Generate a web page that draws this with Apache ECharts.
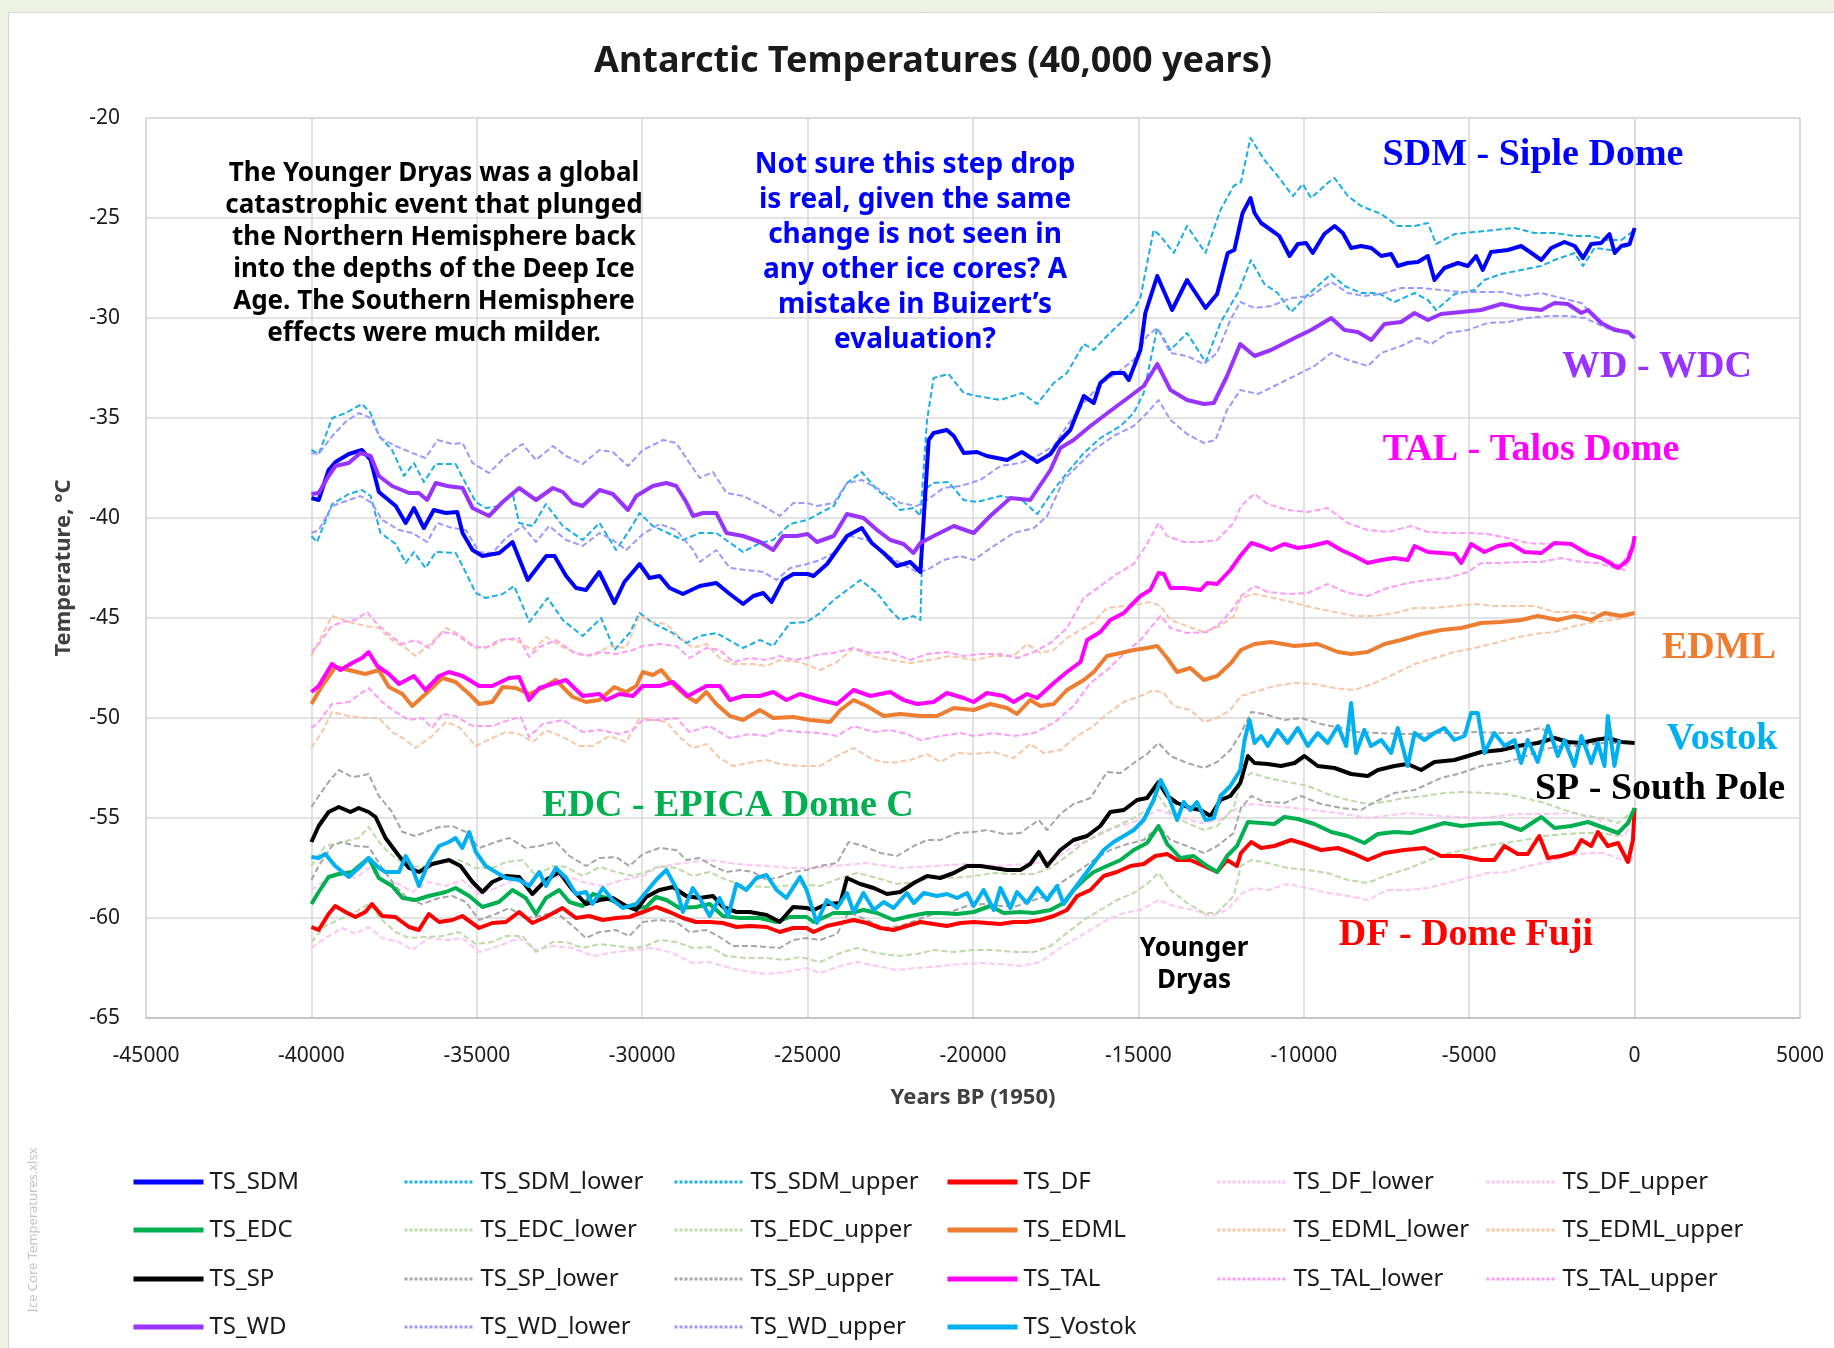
<!DOCTYPE html>
<html>
<head>
<meta charset="utf-8">
<title>Antarctic Temperatures (40,000 years)</title>
<script src="https://cdn.jsdelivr.net/npm/echarts/dist/echarts.min.js"></script>
<style>
  html, body { margin: 0; padding: 0; background: #ffffff; }
  #chart { width: 1834px; height: 1348px; }
</style>
</head>
<body>
<div id="chart"></div>
<script>
// Ice-core temperature reconstructions: [years BP (1950), temperature °C]
const TS_SDM = [[-40000,-39.0],[-39780,-39.1],[-39480,-37.6],[-39270,-37.2],[-38870,-36.8],[-38470,-36.6],[-38210,-37.1],[-37960,-38.7],[-37450,-39.4],[-37150,-40.25],[-36900,-39.5],[-36600,-40.5],[-36300,-39.6],[-35940,-39.75],[-35590,-39.7],[-35430,-40.75],[-35130,-41.6],[-34830,-41.9],[-34320,-41.75],[-33920,-41.2],[-33460,-43.1],[-32900,-41.9],[-32650,-41.9],[-32300,-42.9],[-32000,-43.5],[-31700,-43.6],[-31300,-42.7],[-30840,-44.25],[-30540,-43.2],[-30080,-42.3],[-29780,-43.0],[-29470,-42.9],[-29170,-43.5],[-28770,-43.8],[-28260,-43.4],[-27760,-43.25],[-27350,-43.8],[-26950,-44.3],[-26640,-43.9],[-26340,-43.75],[-26090,-44.2],[-25740,-43.1],[-25430,-42.8],[-25000,-42.8],[-24820,-42.9],[-24410,-42.3],[-23810,-40.9],[-23360,-40.5],[-23060,-41.25],[-22700,-41.75],[-22300,-42.4],[-21900,-42.2],[-21590,-42.7],[-21340,-36.1],[-21190,-35.75],[-20790,-35.6],[-20580,-35.9],[-20280,-36.75],[-19880,-36.7],[-19580,-36.9],[-18970,-37.1],[-18520,-36.7],[-18060,-37.2],[-17660,-36.8],[-17410,-36.2],[-17060,-35.6],[-16650,-33.9],[-16350,-34.25],[-16150,-33.25],[-15800,-32.75],[-15440,-32.75],[-15290,-33.1],[-14940,-31.6],[-14790,-29.75],[-14430,-27.9],[-13980,-29.6],[-13530,-28.1],[-12970,-29.5],[-12620,-28.8],[-12300,-26.75],[-12100,-26.6],[-11850,-24.75],[-11610,-24.0],[-11490,-24.75],[-11290,-25.25],[-10990,-25.6],[-10740,-25.9],[-10430,-26.9],[-10180,-26.3],[-9930,-26.25],[-9730,-26.75],[-9380,-25.8],[-9070,-25.4],[-8820,-25.75],[-8570,-26.5],[-8270,-26.4],[-7960,-26.5],[-7660,-26.9],[-7360,-26.8],[-7160,-27.4],[-6860,-27.25],[-6550,-27.2],[-6250,-26.9],[-6050,-28.1],[-5750,-27.5],[-5340,-27.25],[-5040,-27.4],[-4790,-26.9],[-4590,-27.6],[-4340,-26.7],[-3830,-26.6],[-3430,-26.4],[-3120,-26.75],[-2820,-27.1],[-2520,-26.5],[-2120,-26.2],[-1810,-26.4],[-1560,-27.0],[-1310,-26.3],[-1010,-26.25],[-760,-25.8],[-600,-26.75],[-400,-26.4],[-150,-26.3],[0,-25.5]];
const TS_SDM_upper = [[-40000,-36.6],[-39780,-36.8],[-39370,-35.0],[-38970,-34.75],[-38470,-34.3],[-38210,-34.75],[-37960,-35.9],[-37560,-36.6],[-37200,-37.9],[-36900,-37.25],[-36600,-38.2],[-36240,-37.3],[-35640,-37.3],[-35390,-38.1],[-35030,-39.2],[-34730,-39.5],[-34320,-39.4],[-33920,-38.75],[-33720,-40.25],[-33310,-40.4],[-32910,-39.3],[-32400,-40.4],[-31800,-41.1],[-31290,-40.25],[-30790,-41.6],[-30380,-40.6],[-30080,-39.75],[-29680,-40.4],[-28770,-41.1],[-28260,-40.75],[-27760,-40.75],[-26950,-41.7],[-26440,-41.25],[-26040,-41.1],[-25530,-40.3],[-25020,-40.1],[-24620,-39.75],[-24210,-39.4],[-23810,-38.25],[-23360,-37.7],[-22900,-38.6],[-22500,-39.1],[-22200,-39.6],[-21800,-39.5],[-21590,-39.9],[-21390,-35.1],[-21190,-33.0],[-20740,-32.8],[-20280,-33.75],[-19880,-33.9],[-19170,-34.1],[-18520,-33.75],[-18060,-34.3],[-17560,-33.25],[-17160,-32.75],[-16650,-31.3],[-16350,-31.6],[-15950,-30.9],[-15540,-30.25],[-15140,-29.6],[-14940,-29.0],[-14540,-25.6],[-14330,-25.9],[-13930,-26.75],[-13530,-25.4],[-12970,-26.75],[-12520,-24.6],[-12120,-23.4],[-11900,-23.2],[-11610,-21.0],[-11190,-22.1],[-10790,-22.9],[-10330,-23.9],[-10030,-23.3],[-9780,-24.0],[-9280,-23.25],[-9070,-23.0],[-8670,-23.9],[-8270,-24.4],[-7660,-24.8],[-7160,-25.4],[-6650,-25.4],[-6250,-25.25],[-6000,-26.3],[-5440,-25.8],[-4840,-25.7],[-4230,-25.6],[-3630,-25.5],[-3020,-25.75],[-2420,-25.75],[-1810,-25.9],[-1310,-25.9],[-810,-26.1],[-400,-26.1],[0,-25.6]];
const TS_SDM_lower = [[-40000,-40.9],[-39830,-41.2],[-39370,-39.3],[-38870,-38.8],[-38470,-38.6],[-38210,-38.9],[-37910,-40.75],[-37450,-41.3],[-37150,-42.25],[-36900,-41.7],[-36550,-42.5],[-36240,-41.7],[-35640,-41.75],[-35430,-42.4],[-35030,-43.75],[-34730,-44.0],[-34220,-43.8],[-33870,-43.4],[-33410,-45.2],[-32860,-44.0],[-32400,-45.1],[-31800,-45.9],[-31240,-45.0],[-30840,-46.6],[-30380,-45.75],[-30080,-44.75],[-29680,-45.25],[-29070,-45.75],[-28670,-46.25],[-28260,-45.9],[-27760,-45.75],[-26950,-46.5],[-26440,-46.1],[-26040,-46.4],[-25530,-45.25],[-25020,-45.2],[-24620,-44.75],[-24210,-44.1],[-23400,-43.1],[-22900,-43.75],[-22500,-44.6],[-22200,-45.1],[-21800,-44.9],[-21590,-45.1],[-21490,-38.6],[-21190,-38.25],[-20740,-38.2],[-20280,-39.1],[-19880,-39.2],[-19170,-38.9],[-18520,-39.1],[-18060,-39.8],[-17560,-38.6],[-17160,-37.75],[-16650,-36.75],[-16150,-36.0],[-15540,-35.4],[-15140,-34.75],[-14840,-33.75],[-14430,-30.5],[-14030,-31.6],[-13530,-30.75],[-12970,-32.2],[-12520,-30.25],[-12300,-29.6],[-11950,-28.6],[-11600,-27.1],[-11190,-28.3],[-10790,-28.75],[-10380,-29.7],[-9980,-29.0],[-9580,-28.4],[-9170,-27.8],[-8770,-28.4],[-8270,-28.75],[-7760,-28.75],[-7260,-29.2],[-6650,-28.75],[-6250,-29.1],[-6000,-29.6],[-5440,-28.8],[-4840,-28.6],[-4540,-28.1],[-4030,-27.8],[-3430,-27.6],[-2820,-27.4],[-2420,-27.1],[-1810,-26.75],[-1560,-27.4],[-1210,-26.5],[-710,-26.6],[-200,-26.4],[0,-25.6]];

const TS_WD = [[-40000,-38.8],[-39780,-38.75],[-39480,-37.9],[-39270,-37.4],[-38870,-37.25],[-38520,-36.75],[-38210,-36.9],[-37960,-37.9],[-37560,-38.4],[-37050,-38.75],[-36750,-38.75],[-36500,-39.1],[-36240,-38.25],[-35890,-38.4],[-35430,-38.5],[-35130,-39.5],[-34630,-39.9],[-34220,-39.2],[-33720,-38.5],[-33210,-39.1],[-32700,-38.5],[-32400,-38.7],[-32100,-39.25],[-31800,-39.4],[-31290,-38.6],[-30890,-38.8],[-30430,-39.6],[-30180,-38.9],[-29680,-38.4],[-29270,-38.25],[-28970,-38.4],[-28670,-39.2],[-28460,-39.9],[-28160,-39.75],[-27760,-39.75],[-27450,-40.75],[-26950,-40.9],[-26440,-41.2],[-26040,-41.6],[-25740,-40.9],[-25330,-40.9],[-25000,-40.8],[-24720,-41.2],[-24210,-40.9],[-23810,-39.8],[-23310,-40.0],[-22900,-40.6],[-22500,-41.1],[-22100,-41.3],[-21800,-41.75],[-21590,-41.25],[-21190,-40.9],[-20580,-40.4],[-19980,-40.75],[-19480,-39.9],[-18870,-39.0],[-18270,-39.1],[-17660,-37.6],[-17360,-36.5],[-16960,-36.1],[-16450,-35.4],[-16050,-34.9],[-15650,-34.4],[-15240,-33.9],[-14840,-33.4],[-14430,-32.3],[-14030,-33.6],[-13530,-34.1],[-13020,-34.3],[-12720,-34.25],[-12320,-32.9],[-11920,-31.3],[-11490,-31.9],[-10990,-31.6],[-10280,-31.0],[-9780,-30.6],[-9170,-30.0],[-8770,-30.6],[-8370,-30.7],[-7960,-31.1],[-7560,-30.3],[-7060,-30.2],[-6650,-29.75],[-6250,-30.1],[-5850,-29.8],[-5240,-29.7],[-4640,-29.6],[-4030,-29.3],[-3430,-29.5],[-2820,-29.6],[-2420,-29.25],[-2020,-29.3],[-1610,-29.75],[-1410,-29.6],[-1010,-30.25],[-600,-30.6],[-200,-30.7],[0,-31.0]];
const TS_WD_upper = [[-40000,-36.75],[-39780,-36.8],[-39370,-35.9],[-38970,-35.2],[-38570,-34.75],[-38210,-35.0],[-37910,-36.0],[-37450,-36.4],[-36950,-36.75],[-36550,-37.0],[-36190,-36.1],[-35740,-36.3],[-35430,-36.25],[-35130,-37.25],[-34630,-37.75],[-34120,-36.9],[-33620,-36.3],[-33210,-37.1],[-32700,-36.4],[-32300,-36.9],[-31800,-37.3],[-31290,-36.6],[-30890,-36.7],[-30430,-37.4],[-29980,-36.6],[-29370,-36.1],[-28970,-36.25],[-28570,-37.25],[-28260,-38.0],[-27860,-37.7],[-27450,-38.75],[-26950,-38.9],[-26340,-39.4],[-25840,-39.9],[-25430,-39.25],[-25020,-39.25],[-24720,-39.4],[-24210,-39.25],[-23810,-38.25],[-23360,-38.1],[-22800,-38.6],[-22200,-39.25],[-21690,-39.4],[-21390,-39.1],[-20890,-38.5],[-20380,-38.4],[-19780,-38.1],[-19170,-37.4],[-18570,-37.25],[-18060,-36.9],[-17560,-36.4],[-17160,-35.4],[-16650,-34.25],[-16150,-33.3],[-15650,-32.75],[-15140,-32.1],[-14740,-30.9],[-14430,-30.5],[-14030,-31.75],[-13530,-31.9],[-13020,-32.3],[-12620,-31.75],[-12220,-30.1],[-11920,-29.2],[-11490,-29.5],[-10990,-29.4],[-10380,-29.0],[-9780,-28.9],[-9170,-28.2],[-8670,-28.75],[-8170,-28.9],[-7660,-28.8],[-7060,-28.5],[-6450,-28.5],[-5850,-28.6],[-5240,-28.7],[-4640,-28.7],[-4030,-28.7],[-3430,-28.9],[-2820,-28.75],[-2220,-29.0],[-1610,-29.25],[-1210,-29.9],[-810,-30.4],[-400,-30.6],[0,-31.0]];
const TS_WD_lower = [[-40000,-40.75],[-39780,-40.6],[-39370,-39.4],[-38870,-39.1],[-38520,-38.9],[-38170,-39.25],[-37860,-40.1],[-37350,-40.6],[-36950,-40.75],[-36500,-41.2],[-36190,-40.25],[-35740,-40.5],[-35330,-40.6],[-34930,-41.7],[-34530,-41.75],[-34120,-41.0],[-33620,-40.4],[-33210,-41.2],[-32810,-40.4],[-32300,-41.1],[-31800,-41.4],[-31290,-40.75],[-30890,-41.1],[-30480,-41.6],[-29980,-40.8],[-29470,-40.3],[-28970,-40.6],[-28460,-41.6],[-28260,-42.2],[-27760,-41.6],[-27350,-42.5],[-26850,-42.6],[-26340,-42.7],[-25940,-43.1],[-25530,-42.5],[-25020,-42.3],[-24620,-42.1],[-24210,-41.75],[-23710,-40.9],[-23210,-41.1],[-22700,-41.75],[-22200,-42.25],[-21690,-42.7],[-21390,-42.6],[-20890,-42.1],[-20380,-41.9],[-19980,-42.1],[-19370,-41.4],[-18770,-40.75],[-18160,-40.5],[-17760,-39.9],[-17260,-38.1],[-16750,-37.25],[-16350,-36.6],[-15750,-35.9],[-15140,-35.4],[-14740,-34.75],[-14390,-34.1],[-14030,-35.1],[-13530,-35.8],[-13020,-36.25],[-12670,-36.1],[-12320,-34.6],[-11920,-33.6],[-11390,-33.8],[-10890,-33.4],[-10280,-32.9],[-9680,-32.4],[-9170,-31.75],[-8670,-32.1],[-8060,-32.4],[-7660,-31.75],[-7060,-31.4],[-6550,-31.0],[-6150,-31.3],[-5650,-30.75],[-5040,-30.6],[-4440,-30.25],[-3830,-30.2],[-3230,-30.0],[-2620,-29.9],[-2020,-29.9],[-1510,-30.0],[-1110,-30.3],[-700,-30.6],[-300,-30.75],[0,-31.0]];

const TS_TAL = [[-40000,-48.7],[-39780,-48.4],[-39380,-47.3],[-39120,-47.6],[-38770,-47.25],[-38470,-47.0],[-38270,-46.7],[-38010,-47.4],[-37660,-47.8],[-37350,-48.3],[-36900,-47.9],[-36550,-48.6],[-36140,-47.9],[-35840,-47.7],[-35430,-47.9],[-34930,-48.4],[-34530,-48.4],[-34020,-48.0],[-33720,-47.95],[-33420,-49.1],[-33110,-48.5],[-32710,-48.3],[-32300,-48.1],[-31800,-48.9],[-31290,-48.8],[-31090,-49.1],[-30690,-48.8],[-30280,-48.9],[-29980,-48.4],[-29470,-48.4],[-29070,-48.2],[-28620,-48.9],[-28060,-48.4],[-27650,-48.4],[-27350,-49.1],[-26950,-48.9],[-26440,-48.9],[-26040,-48.7],[-25640,-49.1],[-25230,-48.8],[-24620,-49.1],[-24110,-49.3],[-23610,-48.6],[-23100,-48.9],[-22500,-48.7],[-22100,-49.1],[-21690,-49.3],[-21190,-49.2],[-20790,-48.75],[-20280,-49.0],[-19980,-49.2],[-19580,-48.75],[-19070,-48.9],[-18770,-49.2],[-18370,-48.8],[-18060,-49.0],[-17560,-48.25],[-17160,-47.7],[-16750,-47.2],[-16550,-46.1],[-16150,-45.7],[-15850,-45.1],[-15440,-44.75],[-15240,-44.4],[-14940,-43.9],[-14640,-43.6],[-14390,-42.75],[-14230,-42.8],[-14030,-43.5],[-13630,-43.5],[-13120,-43.6],[-12920,-43.25],[-12620,-43.3],[-12220,-42.6],[-11920,-41.9],[-11590,-41.25],[-11290,-41.4],[-10990,-41.6],[-10590,-41.3],[-10180,-41.5],[-9780,-41.4],[-9280,-41.2],[-8870,-41.6],[-8470,-41.9],[-8070,-42.25],[-7660,-42.1],[-7260,-42.0],[-6860,-42.1],[-6650,-41.4],[-6250,-41.7],[-5850,-41.75],[-5440,-41.8],[-5240,-42.25],[-4940,-41.3],[-4540,-41.7],[-4130,-41.4],[-3730,-41.3],[-3330,-41.7],[-2820,-41.75],[-2420,-41.25],[-1920,-41.3],[-1410,-41.8],[-1010,-42.0],[-500,-42.5],[-200,-42.1],[-50,-41.4],[0,-40.9]];
const TS_TAL_upper = [[-40000,-46.7],[-39780,-46.3],[-39380,-45.4],[-39070,-45.2],[-38670,-45.1],[-38320,-44.7],[-37960,-45.4],[-37560,-45.95],[-37250,-46.3],[-36850,-46.1],[-36450,-46.5],[-36040,-45.7],[-35640,-45.8],[-35130,-46.4],[-34730,-46.5],[-34330,-46.1],[-33720,-46.0],[-33420,-46.95],[-33110,-46.45],[-32610,-46.1],[-32100,-46.7],[-31700,-46.9],[-31290,-46.7],[-30790,-46.8],[-30280,-46.6],[-29980,-46.4],[-29470,-46.3],[-28970,-46.4],[-28570,-47.0],[-28060,-46.5],[-27650,-46.6],[-27250,-47.2],[-26750,-47.0],[-26240,-47.1],[-25840,-46.9],[-25430,-47.1],[-25030,-47.0],[-24620,-46.8],[-24210,-46.75],[-23610,-46.5],[-23100,-46.75],[-22500,-46.7],[-21900,-47.1],[-21390,-46.8],[-20790,-46.7],[-20280,-46.9],[-19780,-46.8],[-19170,-46.8],[-18670,-47.0],[-18160,-46.7],[-17660,-46.25],[-17160,-45.5],[-16650,-44.0],[-16150,-43.4],[-15650,-42.8],[-15140,-42.3],[-14740,-41.3],[-14390,-40.25],[-14130,-40.9],[-13630,-41.2],[-13120,-41.2],[-12620,-41.1],[-12120,-40.25],[-11900,-39.4],[-11490,-38.8],[-11090,-39.3],[-10490,-39.6],[-9880,-39.7],[-9280,-39.5],[-8670,-40.25],[-8070,-40.6],[-7460,-40.7],[-6760,-40.4],[-6250,-40.7],[-5650,-40.75],[-5040,-40.75],[-4440,-40.8],[-3830,-41.0],[-3230,-41.25],[-2620,-41.3],[-1920,-41.3],[-1310,-41.8],[-810,-42.1],[-400,-42.4],[0,-41.1]];
const TS_TAL_lower = [[-40000,-50.5],[-39780,-50.2],[-39380,-49.3],[-38870,-49.2],[-38270,-48.5],[-37860,-49.2],[-37460,-49.7],[-37050,-50.1],[-36650,-50.0],[-36350,-50.5],[-36040,-49.8],[-35640,-49.9],[-35130,-50.4],[-34530,-50.4],[-34020,-50.1],[-33670,-49.95],[-33420,-50.95],[-33010,-50.3],[-32400,-50.1],[-31800,-50.7],[-31290,-50.6],[-30690,-50.8],[-30280,-50.6],[-29980,-50.1],[-29470,-50.1],[-28970,-50.0],[-28570,-50.7],[-27960,-50.4],[-27350,-51.0],[-26750,-50.8],[-26240,-50.9],[-25840,-50.6],[-25230,-50.7],[-24620,-50.75],[-24110,-50.9],[-23610,-50.4],[-23000,-50.7],[-22500,-50.6],[-22000,-50.8],[-21590,-51.1],[-20990,-50.9],[-20380,-50.75],[-19980,-50.9],[-19370,-50.75],[-18770,-50.9],[-18160,-50.75],[-17560,-50.25],[-16960,-49.4],[-16450,-48.25],[-15950,-47.6],[-15440,-46.8],[-14940,-46.1],[-14640,-45.5],[-14330,-44.9],[-14030,-45.5],[-13530,-45.75],[-12920,-45.7],[-12520,-45.25],[-12120,-44.5],[-11900,-43.9],[-11490,-43.4],[-11090,-43.7],[-10490,-43.8],[-9880,-43.75],[-9280,-43.3],[-8670,-43.75],[-8070,-43.9],[-7460,-43.5],[-6860,-43.25],[-6250,-43.1],[-5650,-43.0],[-5040,-42.7],[-4640,-42.25],[-4030,-42.25],[-3430,-42.2],[-2820,-42.2],[-2220,-42.0],[-1610,-42.2],[-1110,-42.25],[-600,-42.5],[-300,-42.6],[0,-41.4]];

const TS_EDML = [[-40000,-49.3],[-39680,-48.4],[-39280,-47.45],[-38870,-47.6],[-38370,-47.8],[-37960,-47.6],[-37660,-48.45],[-37250,-48.8],[-36950,-49.4],[-36550,-48.8],[-36040,-48.0],[-35640,-48.2],[-35230,-48.8],[-34930,-49.3],[-34530,-49.2],[-34220,-48.45],[-33820,-48.5],[-33420,-48.8],[-33010,-48.5],[-32610,-48.1],[-32100,-48.95],[-31700,-49.2],[-31290,-49.1],[-30840,-48.45],[-30490,-48.7],[-30180,-48.4],[-29980,-47.7],[-29680,-47.85],[-29420,-47.6],[-29070,-48.3],[-28670,-48.9],[-28370,-49.2],[-28060,-48.7],[-27760,-49.3],[-27350,-49.9],[-26950,-50.1],[-26440,-49.6],[-26040,-50.0],[-25430,-49.95],[-24930,-50.1],[-24320,-50.2],[-24010,-49.6],[-23610,-49.1],[-23210,-49.4],[-22700,-49.9],[-22200,-49.8],[-21590,-49.9],[-21090,-49.9],[-20580,-49.5],[-19980,-49.6],[-19480,-49.3],[-18970,-49.5],[-18670,-49.8],[-18270,-49.1],[-17960,-49.4],[-17560,-49.3],[-17160,-48.6],[-16650,-48.1],[-16350,-47.7],[-15950,-46.9],[-15540,-46.75],[-15140,-46.6],[-14740,-46.5],[-14430,-46.4],[-14130,-47.0],[-13830,-47.7],[-13430,-47.5],[-13020,-48.1],[-12620,-47.9],[-12200,-47.25],[-11900,-46.6],[-11490,-46.3],[-10990,-46.2],[-10280,-46.4],[-9580,-46.3],[-8970,-46.7],[-8570,-46.8],[-8070,-46.7],[-7560,-46.3],[-7060,-46.1],[-6450,-45.8],[-5850,-45.6],[-5240,-45.5],[-4640,-45.25],[-4030,-45.2],[-3430,-45.1],[-2930,-44.9],[-2320,-45.1],[-1820,-44.9],[-1310,-45.1],[-910,-44.75],[-400,-44.9],[0,-44.75]];
const TS_EDML_upper = [[-40000,-46.9],[-39680,-45.9],[-39380,-44.9],[-38870,-45.2],[-38370,-45.4],[-37960,-45.5],[-37560,-46.1],[-37150,-46.5],[-36850,-46.9],[-36350,-46.2],[-35940,-45.5],[-35540,-45.8],[-35030,-46.5],[-34530,-46.4],[-34120,-46.0],[-33720,-46.2],[-33310,-46.6],[-32910,-45.95],[-32400,-46.45],[-31900,-46.8],[-31490,-46.9],[-30990,-46.4],[-30490,-46.5],[-30080,-44.9],[-29680,-45.2],[-29270,-45.3],[-28870,-45.95],[-28470,-46.5],[-28060,-46.3],[-27660,-47.0],[-27250,-47.3],[-26650,-47.3],[-26240,-47.4],[-25840,-47.1],[-25230,-47.2],[-24620,-47.6],[-24110,-47.2],[-23610,-46.5],[-23100,-46.9],[-22500,-47.1],[-21900,-47.25],[-21290,-47.1],[-20690,-46.9],[-19980,-47.1],[-19370,-46.9],[-18770,-46.9],[-18370,-46.3],[-17960,-46.75],[-17560,-46.6],[-17160,-46.0],[-16650,-45.5],[-16350,-45.2],[-15950,-44.5],[-15440,-44.4],[-14940,-44.3],[-14640,-44.2],[-14330,-44.4],[-14030,-45.1],[-13530,-45.4],[-13020,-45.7],[-12520,-45.4],[-12120,-44.9],[-11900,-44.0],[-11490,-43.8],[-10890,-44.0],[-10280,-44.25],[-9680,-44.5],[-9070,-44.7],[-8470,-44.9],[-7860,-44.9],[-7260,-44.75],[-6650,-44.5],[-6050,-44.5],[-5450,-44.4],[-4840,-44.3],[-4230,-44.4],[-3630,-44.4],[-3030,-44.4],[-2420,-44.7],[-1820,-44.7],[-1210,-44.75],[-710,-44.9],[-300,-44.8],[0,-44.75]];
const TS_EDML_lower = [[-40000,-51.5],[-39680,-50.7],[-39380,-49.7],[-38870,-49.9],[-38370,-50.0],[-37960,-50.0],[-37560,-50.7],[-37150,-51.1],[-36850,-51.5],[-36350,-50.9],[-35940,-50.2],[-35540,-50.45],[-35030,-51.4],[-34530,-51.0],[-34120,-50.7],[-33720,-50.8],[-33310,-51.2],[-32910,-50.6],[-32400,-50.95],[-31900,-51.4],[-31490,-51.4],[-30990,-50.9],[-30490,-51.2],[-30080,-50.0],[-29680,-50.1],[-29270,-50.2],[-28870,-50.95],[-28470,-51.5],[-28060,-51.3],[-27660,-52.0],[-27250,-52.4],[-26650,-52.2],[-26240,-52.1],[-25840,-52.3],[-25230,-52.4],[-24620,-52.4],[-24110,-51.9],[-23610,-51.5],[-23000,-52.1],[-22500,-52.25],[-21900,-52.1],[-21390,-51.8],[-20990,-52.2],[-20480,-51.75],[-19980,-51.8],[-19370,-51.7],[-18770,-52.0],[-18270,-51.3],[-17860,-51.75],[-17360,-51.6],[-16850,-50.9],[-16350,-50.4],[-15950,-49.8],[-15440,-49.2],[-14940,-48.9],[-14540,-48.6],[-14230,-48.75],[-13930,-49.4],[-13430,-49.6],[-13020,-50.2],[-12620,-50.0],[-12220,-49.6],[-11900,-48.9],[-11490,-48.7],[-10890,-48.4],[-10280,-48.25],[-9680,-48.3],[-9070,-48.5],[-8470,-48.6],[-7860,-48.25],[-7260,-47.8],[-6650,-47.3],[-6050,-47.0],[-5450,-46.7],[-4840,-46.5],[-4230,-46.25],[-3630,-46.0],[-3030,-45.8],[-2420,-45.7],[-1820,-45.4],[-1210,-45.2],[-710,-45.1],[-300,-45.0],[0,-44.75]];

const TS_SP = [[-40000,-56.2],[-39780,-55.4],[-39480,-54.7],[-39170,-54.45],[-38820,-54.7],[-38570,-54.5],[-38270,-54.7],[-38060,-54.95],[-37760,-56.0],[-37350,-56.9],[-37050,-57.5],[-36750,-57.7],[-36350,-57.3],[-35840,-57.1],[-35490,-57.4],[-35130,-58.2],[-34830,-58.7],[-34530,-58.2],[-34120,-57.9],[-33720,-57.95],[-33320,-58.8],[-32910,-58.1],[-32510,-57.7],[-32100,-58.6],[-31700,-59.3],[-31290,-59.1],[-30890,-59.0],[-30490,-59.4],[-30180,-59.6],[-29880,-58.95],[-29480,-58.6],[-29070,-58.45],[-28670,-58.9],[-28270,-59.0],[-27860,-58.9],[-27560,-59.45],[-27150,-59.7],[-26750,-59.7],[-26240,-59.85],[-25840,-60.2],[-25440,-59.45],[-25030,-59.5],[-24820,-59.6],[-24420,-59.3],[-24010,-59.25],[-23810,-58.0],[-23410,-58.3],[-23000,-58.5],[-22600,-58.8],[-22200,-58.7],[-21790,-58.25],[-21390,-57.9],[-20990,-58.0],[-20580,-57.75],[-20180,-57.4],[-19780,-57.4],[-19370,-57.5],[-18970,-57.6],[-18570,-57.6],[-18270,-57.3],[-18010,-56.7],[-17760,-57.4],[-17360,-56.6],[-16960,-56.1],[-16550,-55.9],[-16150,-55.4],[-15850,-54.7],[-15440,-54.6],[-15040,-54.1],[-14740,-54.0],[-14390,-53.2],[-14130,-53.9],[-13830,-54.25],[-13430,-54.5],[-13120,-54.6],[-12820,-54.9],[-12520,-54.1],[-12220,-53.9],[-11920,-53.25],[-11690,-51.9],[-11490,-52.25],[-11090,-52.3],[-10690,-52.4],[-10280,-52.25],[-9980,-51.9],[-9580,-52.4],[-9070,-52.5],[-8570,-52.8],[-8070,-52.9],[-7760,-52.6],[-7260,-52.4],[-6860,-52.3],[-6450,-52.6],[-6050,-52.2],[-5450,-52.1],[-5040,-51.9],[-4640,-51.7],[-4030,-51.6],[-3530,-51.4],[-2930,-51.25],[-2420,-51.0],[-2020,-51.2],[-1610,-51.25],[-1210,-51.1],[-810,-51.0],[-400,-51.2],[0,-51.25]];
const TS_SP_upper = [[-40000,-54.45],[-39780,-53.9],[-39480,-53.2],[-39170,-52.6],[-38770,-52.95],[-38520,-52.9],[-38270,-52.8],[-37960,-53.9],[-37560,-54.7],[-37250,-55.7],[-36850,-55.9],[-36550,-55.7],[-36140,-55.45],[-35740,-55.4],[-35330,-55.7],[-34930,-56.5],[-34430,-56.2],[-34020,-56.0],[-33520,-56.5],[-33110,-56.4],[-32610,-56.2],[-32200,-56.9],[-31700,-57.4],[-31290,-57.0],[-30790,-56.95],[-30390,-57.4],[-29980,-56.8],[-29480,-56.5],[-28970,-56.6],[-28670,-57.1],[-28270,-57.0],[-27860,-57.4],[-27460,-57.7],[-27050,-57.6],[-26650,-57.7],[-26240,-58.1],[-25840,-57.95],[-25440,-57.7],[-25030,-57.6],[-24620,-57.4],[-24110,-57.25],[-23760,-56.2],[-23310,-56.4],[-22800,-56.75],[-22300,-56.9],[-21790,-56.4],[-21390,-56.1],[-20990,-56.1],[-20480,-55.75],[-19980,-55.7],[-19580,-55.6],[-19070,-55.8],[-18570,-55.75],[-18010,-55.1],[-17760,-55.6],[-17360,-54.8],[-16960,-54.3],[-16450,-54.0],[-15950,-52.7],[-15540,-52.75],[-15140,-52.25],[-14740,-51.8],[-14390,-51.25],[-14030,-51.9],[-13530,-52.25],[-13020,-52.5],[-12620,-52.2],[-12220,-51.6],[-11900,-50.75],[-11590,-49.7],[-11190,-49.8],[-10590,-50.1],[-10080,-50.0],[-9480,-50.3],[-8870,-50.5],[-8370,-50.7],[-7760,-50.75],[-7160,-50.8],[-6550,-50.8],[-5950,-50.75],[-5340,-50.75],[-4740,-50.7],[-4130,-50.75],[-3530,-50.75],[-2820,-50.5],[-2320,-51.1],[-1820,-51.4],[-1210,-51.25],[-600,-51.25],[0,-51.25]];
const TS_SP_lower = [[-40000,-58.1],[-39780,-57.4],[-39380,-56.4],[-39070,-56.2],[-38670,-56.4],[-38270,-56.45],[-37860,-57.5],[-37460,-58.4],[-37050,-59.1],[-36650,-59.3],[-36140,-59.0],[-35740,-58.9],[-35330,-59.2],[-34930,-60.1],[-34430,-59.8],[-34020,-59.5],[-33520,-60.0],[-33110,-59.9],[-32610,-59.7],[-32100,-60.4],[-31700,-61.0],[-31290,-60.7],[-30790,-60.6],[-30390,-60.9],[-29980,-60.2],[-29480,-60.1],[-28970,-60.2],[-28570,-60.7],[-28060,-60.6],[-27660,-60.95],[-27250,-61.4],[-26650,-61.4],[-26240,-61.45],[-25840,-61.5],[-25440,-61.1],[-25030,-61.0],[-24620,-61.1],[-24110,-60.8],[-23760,-59.7],[-23210,-60.1],[-22700,-60.5],[-22200,-60.4],[-21690,-60.1],[-21190,-59.8],[-20690,-59.7],[-20180,-59.4],[-19680,-59.3],[-19170,-59.4],[-18670,-59.4],[-18160,-59.1],[-17760,-58.9],[-17360,-58.25],[-16850,-57.7],[-16350,-57.1],[-15850,-56.6],[-15340,-56.3],[-14840,-56.1],[-14390,-55.4],[-14030,-56.1],[-13530,-56.4],[-13020,-56.75],[-12620,-56.4],[-12120,-55.75],[-11900,-54.5],[-11590,-53.9],[-11190,-54.2],[-10590,-54.25],[-10080,-53.9],[-9480,-54.3],[-8870,-54.5],[-8270,-54.6],[-7860,-54.2],[-7260,-53.75],[-6650,-53.6],[-6250,-53.3],[-5850,-53.0],[-5240,-52.75],[-4640,-52.4],[-4030,-52.25],[-3430,-52.0],[-2820,-51.6],[-2220,-51.4],[-1610,-51.4],[-1010,-51.25],[-400,-51.25],[0,-51.25]];

const TS_EDC = [[-40000,-59.3],[-39780,-58.7],[-39480,-57.95],[-39170,-57.8],[-38770,-57.7],[-38270,-57.0],[-37960,-58.0],[-37560,-58.4],[-37250,-59.0],[-36850,-59.1],[-36450,-58.9],[-35940,-58.7],[-35640,-58.5],[-35230,-58.9],[-34830,-59.45],[-34330,-59.2],[-33920,-58.6],[-33520,-59.0],[-33210,-59.8],[-32910,-59.0],[-32510,-58.6],[-32200,-59.2],[-31800,-59.4],[-31490,-58.8],[-31090,-59.0],[-30690,-59.3],[-30280,-59.5],[-29880,-59.45],[-29580,-58.95],[-29270,-59.1],[-28870,-59.5],[-28370,-59.45],[-27960,-59.3],[-27560,-59.9],[-27050,-60.0],[-26450,-60.0],[-25940,-60.2],[-25540,-59.95],[-25030,-59.95],[-24820,-60.2],[-24210,-59.75],[-23710,-59.75],[-23310,-59.6],[-22900,-59.75],[-22400,-60.1],[-21890,-59.9],[-21390,-59.75],[-20990,-59.75],[-20480,-59.8],[-19980,-59.7],[-19480,-59.4],[-19070,-59.75],[-18570,-59.7],[-18160,-59.75],[-17660,-59.6],[-17260,-59.25],[-16960,-58.6],[-16650,-58.1],[-16350,-57.7],[-15950,-57.4],[-15540,-57.1],[-15140,-56.6],[-14740,-56.25],[-14390,-55.4],[-14130,-56.3],[-13730,-57.0],[-13330,-56.9],[-12920,-57.4],[-12620,-57.7],[-12320,-56.9],[-12020,-56.4],[-11690,-55.2],[-11290,-55.25],[-10890,-55.3],[-10590,-54.95],[-10180,-55.05],[-9680,-55.3],[-9170,-55.7],[-8670,-55.9],[-8170,-56.25],[-7760,-55.8],[-7260,-55.7],[-6760,-55.75],[-6250,-55.5],[-5750,-55.25],[-5240,-55.4],[-4640,-55.3],[-4030,-55.25],[-3430,-55.6],[-2820,-54.95],[-2420,-55.5],[-1920,-55.4],[-1410,-55.2],[-910,-55.5],[-500,-55.75],[-200,-55.25],[0,-54.5]];
const TS_EDC_upper = [[-40000,-57.4],[-39580,-56.4],[-39070,-56.2],[-38570,-56.0],[-38270,-55.45],[-37860,-56.4],[-37460,-57.0],[-37050,-57.45],[-36550,-57.4],[-36040,-57.2],[-35540,-57.1],[-35030,-57.5],[-34530,-57.5],[-34120,-57.2],[-33620,-57.1],[-33210,-57.9],[-32710,-57.4],[-32300,-57.45],[-31800,-57.9],[-31290,-57.45],[-30790,-57.7],[-30280,-57.9],[-29880,-57.7],[-29480,-57.4],[-28970,-57.5],[-28470,-57.9],[-27960,-57.7],[-27460,-58.1],[-26850,-58.4],[-26240,-58.45],[-25740,-58.4],[-25230,-58.3],[-24620,-58.4],[-24010,-58.0],[-23510,-57.75],[-22900,-58.0],[-22300,-58.3],[-21690,-58.2],[-21190,-57.9],[-20580,-58.0],[-19980,-57.9],[-19370,-57.75],[-18770,-57.8],[-18160,-57.8],[-17660,-57.5],[-17160,-56.9],[-16650,-56.25],[-16150,-55.75],[-15650,-55.4],[-15140,-55.0],[-14740,-54.6],[-14390,-53.9],[-14030,-54.75],[-13530,-55.25],[-13020,-55.6],[-12620,-55.4],[-12120,-54.5],[-11900,-53.1],[-11590,-52.75],[-11090,-53.0],[-10490,-53.2],[-9880,-53.4],[-9280,-53.8],[-8670,-54.1],[-8070,-54.3],[-7560,-54.2],[-6960,-54.0],[-6350,-53.9],[-5750,-53.75],[-5140,-53.7],[-4540,-53.75],[-3930,-53.8],[-3330,-54.0],[-2720,-54.25],[-2120,-54.6],[-1510,-54.9],[-1010,-55.0],[-500,-55.25],[0,-54.6]];
const TS_EDC_lower = [[-40000,-61.2],[-39580,-60.4],[-39070,-60.0],[-38670,-59.7],[-38270,-59.3],[-37860,-60.1],[-37460,-60.7],[-37050,-61.0],[-36550,-60.95],[-36040,-60.9],[-35540,-60.7],[-35030,-61.3],[-34530,-61.2],[-34120,-60.9],[-33620,-60.9],[-33210,-61.7],[-32710,-61.2],[-32300,-61.2],[-31800,-61.5],[-31290,-61.3],[-30790,-61.4],[-30280,-61.5],[-29880,-61.4],[-29480,-61.1],[-28970,-61.2],[-28470,-61.5],[-27960,-61.45],[-27460,-61.9],[-26850,-62.0],[-26240,-62.0],[-25740,-62.1],[-25230,-61.95],[-24620,-62.2],[-24010,-61.75],[-23510,-61.5],[-22900,-61.75],[-22300,-61.9],[-21690,-61.8],[-21190,-61.6],[-20580,-61.7],[-19980,-61.6],[-19370,-61.6],[-18770,-61.7],[-18160,-61.7],[-17660,-61.4],[-17160,-60.75],[-16650,-60.1],[-16150,-59.6],[-15650,-59.1],[-15140,-58.75],[-14740,-58.3],[-14390,-57.75],[-14030,-58.6],[-13530,-59.25],[-13020,-59.75],[-12620,-59.75],[-12120,-58.9],[-11900,-57.4],[-11590,-57.1],[-11090,-57.25],[-10490,-57.5],[-9880,-57.6],[-9280,-57.75],[-8670,-58.1],[-8070,-58.25],[-7560,-57.9],[-6960,-57.6],[-6350,-57.2],[-5750,-56.8],[-5140,-56.6],[-4540,-56.4],[-3930,-56.25],[-3330,-56.1],[-2720,-55.9],[-2120,-55.8],[-1510,-55.75],[-1010,-55.75],[-500,-55.9],[0,-54.75]];

const TS_DF = [[-40000,-60.45],[-39780,-60.6],[-39480,-59.8],[-39280,-59.4],[-38970,-59.7],[-38670,-59.95],[-38370,-59.7],[-38170,-59.3],[-37860,-59.9],[-37460,-59.95],[-37050,-60.45],[-36750,-60.6],[-36450,-59.8],[-36140,-60.2],[-35740,-60.1],[-35440,-59.9],[-34930,-60.5],[-34530,-60.25],[-34120,-60.2],[-33720,-59.7],[-33320,-60.25],[-32910,-59.95],[-32410,-59.5],[-32000,-60.0],[-31600,-59.9],[-31190,-60.1],[-30790,-60.0],[-30390,-59.95],[-29980,-59.7],[-29580,-59.45],[-29170,-59.7],[-28770,-60.0],[-28370,-60.2],[-27960,-60.2],[-27560,-60.25],[-27150,-60.45],[-26750,-60.4],[-26240,-60.45],[-25840,-60.7],[-25440,-60.5],[-25030,-60.5],[-24820,-60.7],[-24420,-60.4],[-24010,-60.25],[-23610,-60.1],[-23210,-60.25],[-22800,-60.5],[-22400,-60.6],[-22000,-60.4],[-21590,-60.2],[-21190,-60.3],[-20790,-60.4],[-20380,-60.25],[-19980,-60.2],[-19580,-60.25],[-19170,-60.3],[-18770,-60.2],[-18370,-60.2],[-17960,-60.1],[-17560,-59.9],[-17160,-59.6],[-16850,-58.9],[-16450,-58.6],[-16050,-57.9],[-15650,-57.7],[-15240,-57.4],[-14840,-57.3],[-14490,-56.9],[-14130,-56.8],[-13830,-57.1],[-13430,-57.1],[-13020,-57.4],[-12620,-57.7],[-12320,-57.1],[-12020,-57.4],[-11900,-56.75],[-11590,-56.2],[-11290,-56.5],[-10890,-56.4],[-10380,-56.1],[-9980,-56.3],[-9480,-56.6],[-8970,-56.5],[-8470,-56.8],[-8070,-57.1],[-7560,-56.75],[-6960,-56.6],[-6350,-56.5],[-5850,-56.9],[-5240,-56.9],[-4640,-57.1],[-4240,-57.1],[-3940,-56.4],[-3530,-56.8],[-3230,-56.8],[-2880,-55.9],[-2620,-57.0],[-2220,-56.9],[-1820,-56.7],[-1610,-56.1],[-1310,-56.4],[-1110,-55.7],[-810,-56.4],[-500,-56.25],[-200,-57.2],[-50,-56.1],[0,-54.5]];
const TS_DF_upper = [[-40000,-58.6],[-39580,-58.1],[-39170,-57.7],[-38670,-58.0],[-38270,-57.5],[-37860,-58.1],[-37350,-58.3],[-36950,-58.7],[-36450,-58.2],[-35940,-58.4],[-35440,-58.1],[-34930,-58.8],[-34330,-58.45],[-33720,-57.95],[-33210,-58.45],[-32410,-57.8],[-31800,-58.2],[-31190,-58.4],[-30590,-58.1],[-29980,-57.9],[-29580,-57.5],[-28970,-57.3],[-28470,-57.2],[-27960,-57.1],[-27560,-57.2],[-27150,-57.3],[-26240,-57.4],[-25440,-57.5],[-24780,-57.5],[-24210,-57.4],[-23210,-57.25],[-22200,-57.5],[-21190,-57.4],[-20180,-57.3],[-19170,-57.4],[-18160,-57.25],[-17560,-57.1],[-16960,-56.4],[-16350,-56.0],[-15750,-55.5],[-15140,-55.2],[-14390,-54.6],[-13830,-54.9],[-13120,-55.25],[-12520,-55.1],[-12000,-54.5],[-11590,-54.3],[-10280,-54.5],[-8970,-54.75],[-8070,-55.0],[-6860,-54.75],[-5850,-54.9],[-4640,-55.0],[-3530,-54.8],[-2620,-54.8],[-1820,-54.75],[-1110,-55.0],[-700,-55.75],[-300,-55.9],[0,-54.75]];
const TS_DF_lower = [[-40000,-61.5],[-39580,-61.0],[-39070,-60.5],[-38670,-60.8],[-38270,-60.45],[-37860,-61.0],[-37350,-61.2],[-36950,-61.6],[-36450,-61.0],[-35840,-61.1],[-35440,-61.0],[-34930,-61.7],[-34330,-61.4],[-33720,-61.0],[-33210,-61.6],[-32710,-61.4],[-32100,-61.5],[-31490,-61.9],[-30790,-61.7],[-30280,-61.6],[-29680,-61.5],[-29070,-61.75],[-28470,-62.25],[-27960,-62.2],[-27350,-62.5],[-26750,-62.7],[-26240,-62.8],[-25640,-62.7],[-25030,-62.5],[-24620,-62.75],[-24010,-62.4],[-23510,-62.2],[-22900,-62.4],[-22300,-62.6],[-21690,-62.5],[-20990,-62.4],[-20380,-62.3],[-19780,-62.25],[-19170,-62.3],[-18570,-62.4],[-17960,-62.2],[-17460,-61.6],[-16960,-61.1],[-16450,-60.6],[-15950,-60.1],[-15440,-59.75],[-14940,-59.6],[-14390,-59.1],[-13930,-59.4],[-13330,-59.6],[-12820,-59.9],[-12320,-59.6],[-11900,-58.8],[-11490,-58.5],[-11090,-58.6],[-10490,-58.3],[-9880,-58.5],[-9280,-58.75],[-8670,-58.9],[-8070,-59.1],[-7460,-58.6],[-6860,-58.6],[-6250,-58.5],[-5650,-58.25],[-5040,-58.0],[-4440,-57.75],[-3830,-57.7],[-3230,-57.4],[-2620,-57.2],[-2020,-56.9],[-1410,-56.75],[-910,-56.75],[-400,-57.1],[-100,-57.25],[0,-55.0]];

const TS_Vostok = [[-40000,-56.95],[-39780,-57.0],[-39580,-56.8],[-39280,-57.4],[-38870,-57.95],[-38570,-57.5],[-38270,-57.0],[-37960,-57.5],[-37760,-57.7],[-37350,-57.7],[-37150,-56.9],[-36950,-57.5],[-36750,-58.4],[-36450,-57.2],[-36140,-56.4],[-35840,-56.2],[-35640,-56.0],[-35440,-56.5],[-35230,-55.7],[-35030,-56.7],[-34730,-57.4],[-34430,-57.7],[-34120,-58.0],[-33720,-58.1],[-33420,-58.4],[-33110,-57.7],[-32910,-58.4],[-32610,-57.5],[-32300,-58.0],[-32000,-58.8],[-31700,-58.7],[-31500,-59.3],[-31190,-58.5],[-30890,-59.1],[-30590,-59.5],[-30180,-59.3],[-29880,-58.7],[-29580,-58.1],[-29270,-57.6],[-28970,-58.5],[-28770,-59.7],[-28470,-58.5],[-28270,-59.0],[-27960,-59.9],[-27660,-59.0],[-27400,-59.9],[-27150,-58.3],[-26850,-58.6],[-26550,-58.0],[-26240,-57.85],[-25940,-58.6],[-25640,-59.0],[-25230,-57.95],[-25030,-58.6],[-24720,-60.25],[-24420,-59.1],[-24110,-59.5],[-23810,-58.75],[-23610,-59.7],[-23310,-58.75],[-23000,-59.6],[-22700,-59.2],[-22400,-59.5],[-22000,-58.75],[-21790,-59.25],[-21490,-58.75],[-21090,-58.9],[-20790,-58.8],[-20480,-59.0],[-20180,-58.75],[-19980,-59.4],[-19680,-58.6],[-19370,-59.6],[-19170,-58.5],[-18870,-59.5],[-18670,-58.7],[-18370,-59.25],[-18060,-58.5],[-17760,-59.1],[-17460,-58.4],[-17260,-59.3],[-16960,-58.6],[-16650,-57.9],[-16350,-57.25],[-16050,-56.6],[-15750,-56.2],[-15440,-55.9],[-15140,-55.6],[-14840,-55.1],[-14540,-54.1],[-14330,-53.1],[-14130,-53.75],[-13830,-55.1],[-13630,-54.2],[-13430,-54.6],[-13230,-54.2],[-12970,-55.1],[-12720,-55.0],[-12520,-53.9],[-12220,-53.4],[-11920,-52.6],[-11790,-51.1],[-11640,-50.1],[-11490,-51.25],[-11290,-50.9],[-11090,-51.4],[-10790,-50.6],[-10490,-51.25],[-10180,-50.5],[-9880,-51.4],[-9580,-50.75],[-9280,-51.25],[-8970,-50.4],[-8720,-51.4],[-8570,-49.25],[-8420,-51.75],[-8170,-50.6],[-7970,-51.4],[-7660,-51.1],[-7360,-51.75],[-7160,-50.5],[-6860,-52.4],[-6650,-50.75],[-6350,-51.1],[-6050,-50.75],[-5750,-50.5],[-5450,-51.1],[-5140,-50.9],[-4940,-49.75],[-4740,-49.75],[-4540,-51.75],[-4240,-50.75],[-3930,-51.4],[-3630,-51.1],[-3430,-52.25],[-3230,-51.1],[-2930,-52.2],[-2620,-50.4],[-2320,-51.9],[-2120,-51.1],[-1820,-52.4],[-1610,-50.9],[-1310,-52.25],[-1110,-51.25],[-910,-52.4],[-810,-49.9],[-610,-52.4],[-460,-51.1]];

// Axis ticks
const xTicks = { min: -45000, max: 5000, step: 5000 };
const yTicks = { min: -65, max: -20, step: 5 };

// Series table (legend order, row by row)
const seriesTable = [
  { name: 'TS_SDM',        data: TS_SDM,        color: '#0000FF', dashed: false },
  { name: 'TS_SDM_lower',  data: TS_SDM_lower,  color: '#1AAEE6', dashed: true },
  { name: 'TS_SDM_upper',  data: TS_SDM_upper,  color: '#1AAEE6', dashed: true },
  { name: 'TS_DF',         data: TS_DF,         color: '#FF0000', dashed: false },
  { name: 'TS_DF_lower',   data: TS_DF_lower,   color: '#FFC4F6', dashed: true },
  { name: 'TS_DF_upper',   data: TS_DF_upper,   color: '#FFC4F6', dashed: true },
  { name: 'TS_EDC',        data: TS_EDC,        color: '#00B050', dashed: false },
  { name: 'TS_EDC_lower',  data: TS_EDC_lower,  color: '#BBDBA6', dashed: true },
  { name: 'TS_EDC_upper',  data: TS_EDC_upper,  color: '#BBDBA6', dashed: true },
  { name: 'TS_EDML',       data: TS_EDML,       color: '#ED7D31', dashed: false },
  { name: 'TS_EDML_lower', data: TS_EDML_lower, color: '#F8C6A4', dashed: true },
  { name: 'TS_EDML_upper', data: TS_EDML_upper, color: '#F8C6A4', dashed: true },
  { name: 'TS_SP',         data: TS_SP,         color: '#000000', dashed: false },
  { name: 'TS_SP_lower',   data: TS_SP_lower,   color: '#A6A6A6', dashed: true },
  { name: 'TS_SP_upper',   data: TS_SP_upper,   color: '#A6A6A6', dashed: true },
  { name: 'TS_TAL',        data: TS_TAL,        color: '#FF00FF', dashed: false },
  { name: 'TS_TAL_lower',  data: TS_TAL_lower,  color: '#FF99FA', dashed: true },
  { name: 'TS_TAL_upper',  data: TS_TAL_upper,  color: '#FF99FA', dashed: true },
  { name: 'TS_WD',         data: TS_WD,         color: '#9933FF', dashed: false },
  { name: 'TS_WD_lower',   data: TS_WD_lower,   color: '#9999FF', dashed: true },
  { name: 'TS_WD_upper',   data: TS_WD_upper,   color: '#9999FF', dashed: true },
  { name: 'TS_Vostok',     data: TS_Vostok,     color: '#00B0F0', dashed: false }
];

// Legend grid: 6 columns x 4 rows
const legendCols = [131, 403, 673, 945, 1216, 1485];
const legendRows = [1184, 1232, 1281, 1329];

const series = seriesTable.map(s => ({
  name: s.name,
  type: 'line',
  data: s.data,
  symbol: 'none',
  showSymbol: false,
  smooth: false,
  silent: true,
  z: s.dashed ? 2 : (s.name === 'TS_Vostok' ? 4 : 3),
  lineStyle: {
    color: s.color,
    width: s.dashed ? 2 : 4,
    type: s.dashed ? [6, 3] : 'solid',
    join: 'round'
  },
  itemStyle: { color: s.color }
}));

const legends = seriesTable.map((s, i) => ({
  data: [s.name],
  left: legendCols[i % 6],
  top: legendRows[Math.floor(i / 6)] - 14,
  padding: 0,
  itemGap: 0,
  itemWidth: 70,
  itemHeight: 14,
  selectedMode: false,
  itemStyle: { opacity: 0, borderWidth: 0 },
  lineStyle: {
    color: s.color,
    width: s.dashed ? 3 : 5,
    type: s.dashed ? [3, 2] : 'solid',
    opacity: 1
  },
  textStyle: { fontFamily: 'Noto Sans', fontSize: 24, color: '#1a1a1a', padding: [0, 0, 0, 1] }
}));

const serif = "bold 38px 'Liberation Serif', 'DejaVu Serif', serif";
function label(text, x, y, color, font) {
  return {
    type: 'text', silent: true, z: 100,
    style: { text, x, y, fill: color, font: font || serif,
             align: 'center', verticalAlign: 'middle',
             textAlign: 'center', textVerticalAlign: 'middle' }
  };
}

const chart = echarts.init(document.getElementById('chart'), null, { renderer: 'canvas' });
chart.setOption({
  animation: false,
  backgroundColor: '#ffffff',
  grid: { left: 146, right: 34, top: 118, bottom: 330, show: true,
          borderColor: '#d9d9d9', borderWidth: 1.5, backgroundColor: 'transparent' },
  xAxis: {
    type: 'value', min: xTicks.min, max: xTicks.max, interval: xTicks.step,
    name: 'Years BP (1950)', nameLocation: 'middle', nameGap: 69,
    nameTextStyle: { fontFamily: 'Noto Sans', fontSize: 22, fontWeight: 'bold', color: '#404040' },
    axisLine: { show: true, lineStyle: { color: '#bfbfbf', width: 1.5 } },
    axisTick: { show: false },
    axisLabel: { margin: 28, fontFamily: 'Noto Sans', fontSize: 21, color: '#1a1a1a',
                 formatter: v => String(v) },
    splitLine: { show: true, lineStyle: { color: '#d9d9d9', width: 1.5 } }
  },
  yAxis: {
    type: 'value', min: yTicks.min, max: yTicks.max, interval: yTicks.step,
    name: 'Temperature, °C', nameLocation: 'middle', nameGap: 71, nameRotate: 90,
    nameTextStyle: { fontFamily: 'Noto Sans', fontSize: 22, fontWeight: 'bold', color: '#404040' },
    axisLine: { show: true, lineStyle: { color: '#d9d9d9', width: 1.5 } },
    axisTick: { show: false },
    axisLabel: { margin: 26, fontFamily: 'Noto Sans', fontSize: 21, color: '#1a1a1a',
                 formatter: v => String(v) },
    splitLine: { show: true, lineStyle: { color: '#d9d9d9', width: 1.5 } }
  },
  legend: legends,
  series: series,
  graphic: [
    // page frame
    { type: 'rect', silent: true, z: -10, shape: { x: 0, y: 0, width: 1834, height: 12 },
      style: { fill: '#eef2e2' } },
    { type: 'rect', silent: true, z: -10, shape: { x: 0, y: 0, width: 8, height: 1348 },
      style: { fill: '#eef2e2' } },
    { type: 'rect', silent: true, z: -9, shape: { x: 8.5, y: 12.5, width: 1830, height: 1340 },
      style: { fill: 'none', stroke: '#d4d4d4', lineWidth: 1 } },
    // title
    label('Antarctic Temperatures (40,000 years)', 933, 62, '#1a1a1a', "bold 36px 'Noto Sans', sans-serif"),
    // notes
    {
      type: 'text', silent: true, z: 100,
      style: {
        text: 'The Younger Dryas was a global\ncatastrophic event that plunged\nthe Northern Hemisphere back\ninto the depths of the Deep Ice\nAge. The Southern Hemisphere\neffects were much milder.',
        x: 434, y: 254, fill: '#000000', font: "bold 26px 'Noto Sans', sans-serif", lineHeight: 32,
        align: 'center', verticalAlign: 'middle', textAlign: 'center', textVerticalAlign: 'middle'
      }
    },
    {
      type: 'text', silent: true, z: 100,
      style: {
        text: 'Not sure this step drop\nis real, given the same\nchange is not seen in\nany other ice cores? A\nmistake in Buizert\u2019s\nevaluation?',
        x: 915, y: 253, fill: '#0000FF', font: "bold 28px 'Noto Sans', sans-serif", lineHeight: 35,
        align: 'center', verticalAlign: 'middle', textAlign: 'center', textVerticalAlign: 'middle'
      }
    },
    {
      type: 'text', silent: true, z: 100,
      style: {
        text: 'Younger\nDryas', x: 1194, y: 965, fill: '#000000',
        font: "bold 26px 'Noto Sans', sans-serif", lineHeight: 32,
        align: 'center', verticalAlign: 'middle', textAlign: 'center', textVerticalAlign: 'middle'
      }
    },
    // core labels
    label('SDM - Siple Dome', 1533, 155, '#0000FF'),
    label('WD - WDC', 1657, 367, '#9933FF'),
    label('TAL - Talos Dome', 1531, 450, '#FF00FF'),
    label('EDML', 1719, 648, '#ED7D31'),
    label('Vostok', 1722, 739, '#00B0F0'),
    label('SP - South Pole', 1660, 789, '#000000'),
    label('EDC - EPICA Dome C', 728, 806, '#00B050'),
    label('DF - Dome Fuji', 1466, 935, '#FF0000'),
    // workbook name
    {
      type: 'text', silent: true, z: 100, rotation: Math.PI / 2, x: 33, y: 1230,
      style: { text: 'Ice Core Temperatures.xlsx', x: 0, y: 0, fill: '#c4c4c4',
               font: "13px 'Noto Sans', sans-serif",
               align: 'center', verticalAlign: 'middle', textAlign: 'center', textVerticalAlign: 'middle' }
    }
  ]
});
</script>
</body>
</html>
